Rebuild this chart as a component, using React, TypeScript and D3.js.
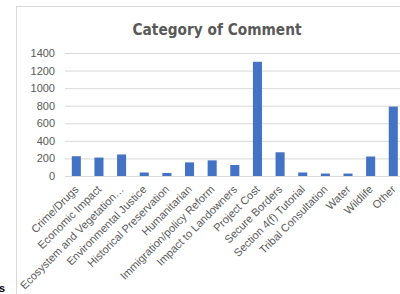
import React from "react";
import * as d3 from "d3";

const categories = [
  "Crime/Drugs",
  "Economic Impact",
  "Ecosystem and Vegetation…",
  "Environmental Justice",
  "Historical Preservation",
  "Humanitarian",
  "Immigration/policy Reform",
  "Impact to Landowners",
  "Project Cost",
  "Secure Borders",
  "Section 4(f) Tutorial",
  "Tribal Consultation",
  "Water",
  "Wildlife",
  "Other",
];
const values = [225, 210, 245, 40, 35, 155, 178, 125, 1300, 270, 40, 28, 28, 222, 790];
const yTicks = [0, 200, 400, 600, 800, 1000, 1200, 1400];

export default function App() {
  const W = 400, H = 294;
  const x0 = 65, x1 = 65 + 22.64 * categories.length;
  const yTop = 53, yBot = 176;
  const x = d3.scaleBand<string>().domain(categories).range([x0, x1]).paddingInner(0.6).paddingOuter(0.3);
  const y = d3.scaleLinear().domain([0, 1400]).range([yBot, yTop]);
  const font = "'Liberation Sans', Arial, sans-serif";
  return (
    <svg width={W} height={H} style={{ position: "absolute", left: 0, top: 0 }}>
      <rect x={0} y={0} width={W} height={H} fill="#fff" />
      <rect x={16.5} y={6.5} width={420} height={320} fill="#fff" stroke="#d9d9d9" />
      <text x={217} y={35} textAnchor="middle" fontFamily="'DejaVu Sans Condensed', 'DejaVu Sans', sans-serif" fontWeight="bold" fontSize={15} fill="#595959" textLength={169} lengthAdjust="spacingAndGlyphs">
        Category of Comment
      </text>
      {yTicks.map((t) => (
        <g key={t}>
          <line x1={x0} x2={W} y1={y(t) + 0.5} y2={y(t) + 0.5} stroke="#d9d9d9" />
          <text x={55} y={y(t) + 4} textAnchor="end" fontFamily={font} fontSize={11} fill="#595959">
            {t}
          </text>
        </g>
      ))}
      {categories.map((c, i) => (
        <rect key={c} x={x(c)} y={y(values[i])} width={x.bandwidth()} height={yBot - y(values[i])} fill="#4472c4" />
      ))}
      {categories.map((c) => {
        const cx = (x(c) as number) + x.bandwidth() / 2 + 3;
        const cy = yBot + 14;
        return (
          <text key={c} transform={`translate(${cx},${cy}) rotate(-45)`} textAnchor="end" fontFamily={font} fontSize={11} fill="#595959">
            {c}
          </text>
        );
      })}
      <text x={-1} y={292} fontFamily={font} fontSize={11} fontWeight="bold" fill="#000">s</text>
    </svg>
  );
}
